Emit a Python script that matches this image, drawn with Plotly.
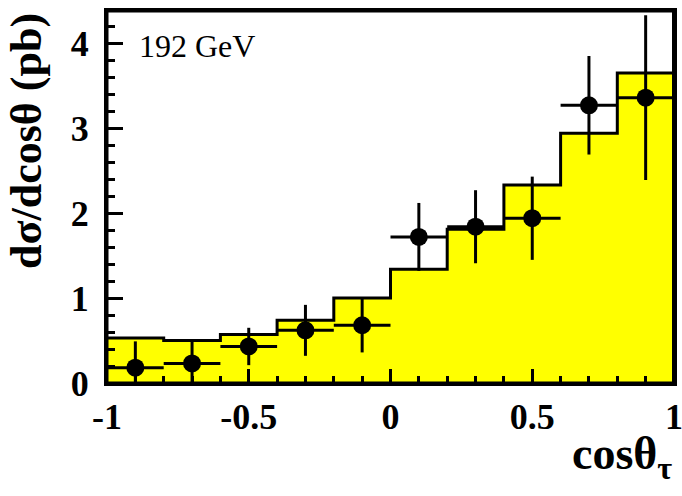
import plotly.graph_objects as go

# Histogram (MC expectation), bin edges from -1 to 1 in steps of 0.2
bin_edges = [-1.0, -0.8, -0.6, -0.4, -0.2, 0.0, 0.2, 0.4, 0.6, 0.8, 1.0]
mc_values = [0.53, 0.50, 0.57, 0.74, 1.00, 1.34, 1.81, 2.33, 2.94, 3.65]

# Data points
data_x = [-0.9, -0.7, -0.5, -0.3, -0.1, 0.1, 0.3, 0.5, 0.7, 0.9]
data_y = [0.18, 0.23, 0.43, 0.62, 0.68, 1.72, 1.84, 1.94, 3.27, 3.36]
data_err = [0.31, 0.26, 0.22, 0.30, 0.32, 0.40, 0.43, 0.49, 0.58, 0.97]
bin_half_width = 0.1

x_tickvals = [-1, -0.5, 0, 0.5, 1]
x_ticktext = ["-1", "-0.5", "0", "0.5", "1"]
y_tickvals = [0, 1, 2, 3, 4]
y_ticktext = ["0", "1", "2", "3", "4"]

FONT = "Liberation Serif"

fig = go.Figure()

fig.add_trace(go.Scatter(
    x=bin_edges,
    y=mc_values + [mc_values[-1]],
    mode="lines",
    line=dict(shape="hv", color="black", width=3),
    fill="tozeroy",
    fillcolor="#ffff00",
    showlegend=False,
    hoverinfo="skip",
))

fig.add_trace(go.Scatter(
    x=data_x,
    y=data_y,
    mode="markers",
    marker=dict(size=18, color="black"),
    error_y=dict(type="data", array=data_err, color="black", thickness=3, width=0),
    error_x=dict(type="constant", value=bin_half_width, color="black", thickness=3, width=0),
    showlegend=False,
))

axis_common = dict(
    showline=True, linecolor="black", linewidth=3, mirror=True,
    showgrid=False, zeroline=False, automargin=False,
    ticks="inside", tickcolor="black", tickwidth=3,
    ticklabeloverflow="allow",
    tickfont=dict(family=FONT, size=36, color="black", weight="bold"),
)

fig.update_xaxes(
    range=[-1, 1],
    tickvals=x_tickvals, ticktext=x_ticktext, ticklen=14,
    minor=dict(dtick=0.1, tick0=0, ticks="inside", ticklen=7, tickwidth=3, tickcolor="black"),
    ticklabelstandoff=0,
    **axis_common,
)
fig.update_yaxes(
    range=[0, 4.38],
    tickvals=y_tickvals, ticktext=y_ticktext, ticklen=16,
    minor=dict(dtick=0.2, tick0=0, ticks="inside", ticklen=8, tickwidth=3, tickcolor="black"),
    ticklabelstandoff=8,
    **axis_common,
)

fig.update_layout(
    width=682, height=496,
    margin=dict(l=107, r=8, t=11, b=113),
    paper_bgcolor="white", plot_bgcolor="white",
    shapes=[
        dict(type="rect", xref="paper", yref="paper", x0=0, y0=0, x1=1, y1=1,
             line=dict(color="black", width=3), layer="above"),
        dict(type="line", xref="paper", yref="paper", x0=1, y0=0, x1=1, y1=1,
             line=dict(color="black", width=4), layer="above"),
    ],
    annotations=[
        dict(text="192 GeV", xref="paper", yref="paper", x=0.053, y=0.905,
             xanchor="left", yanchor="middle", showarrow=False,
             font=dict(family=FONT, size=32, color="black")),
        dict(text="cosθ<sub>τ</sub>", xref="paper", yref="paper", x=1.0, y=-0.2,
             xanchor="right", yanchor="middle", showarrow=False,
             font=dict(family=FONT, size=46, color="black", weight="bold")),
        dict(text="dσ/dcosθ (pb)", xref="paper", yref="paper", x=-0.143, y=1.0,
             xanchor="center", yanchor="top", textangle=-90, showarrow=False,
             font=dict(family=FONT, size=44, color="black", weight="bold")),
    ],
)

fig.write_html(
    "out.html", config={"displayModeBar": False},
    post_script=("document.body.style.margin='0';"
                 "document.body.style.overflow='hidden';"
                 "document.documentElement.style.overflow='hidden';"),
)
